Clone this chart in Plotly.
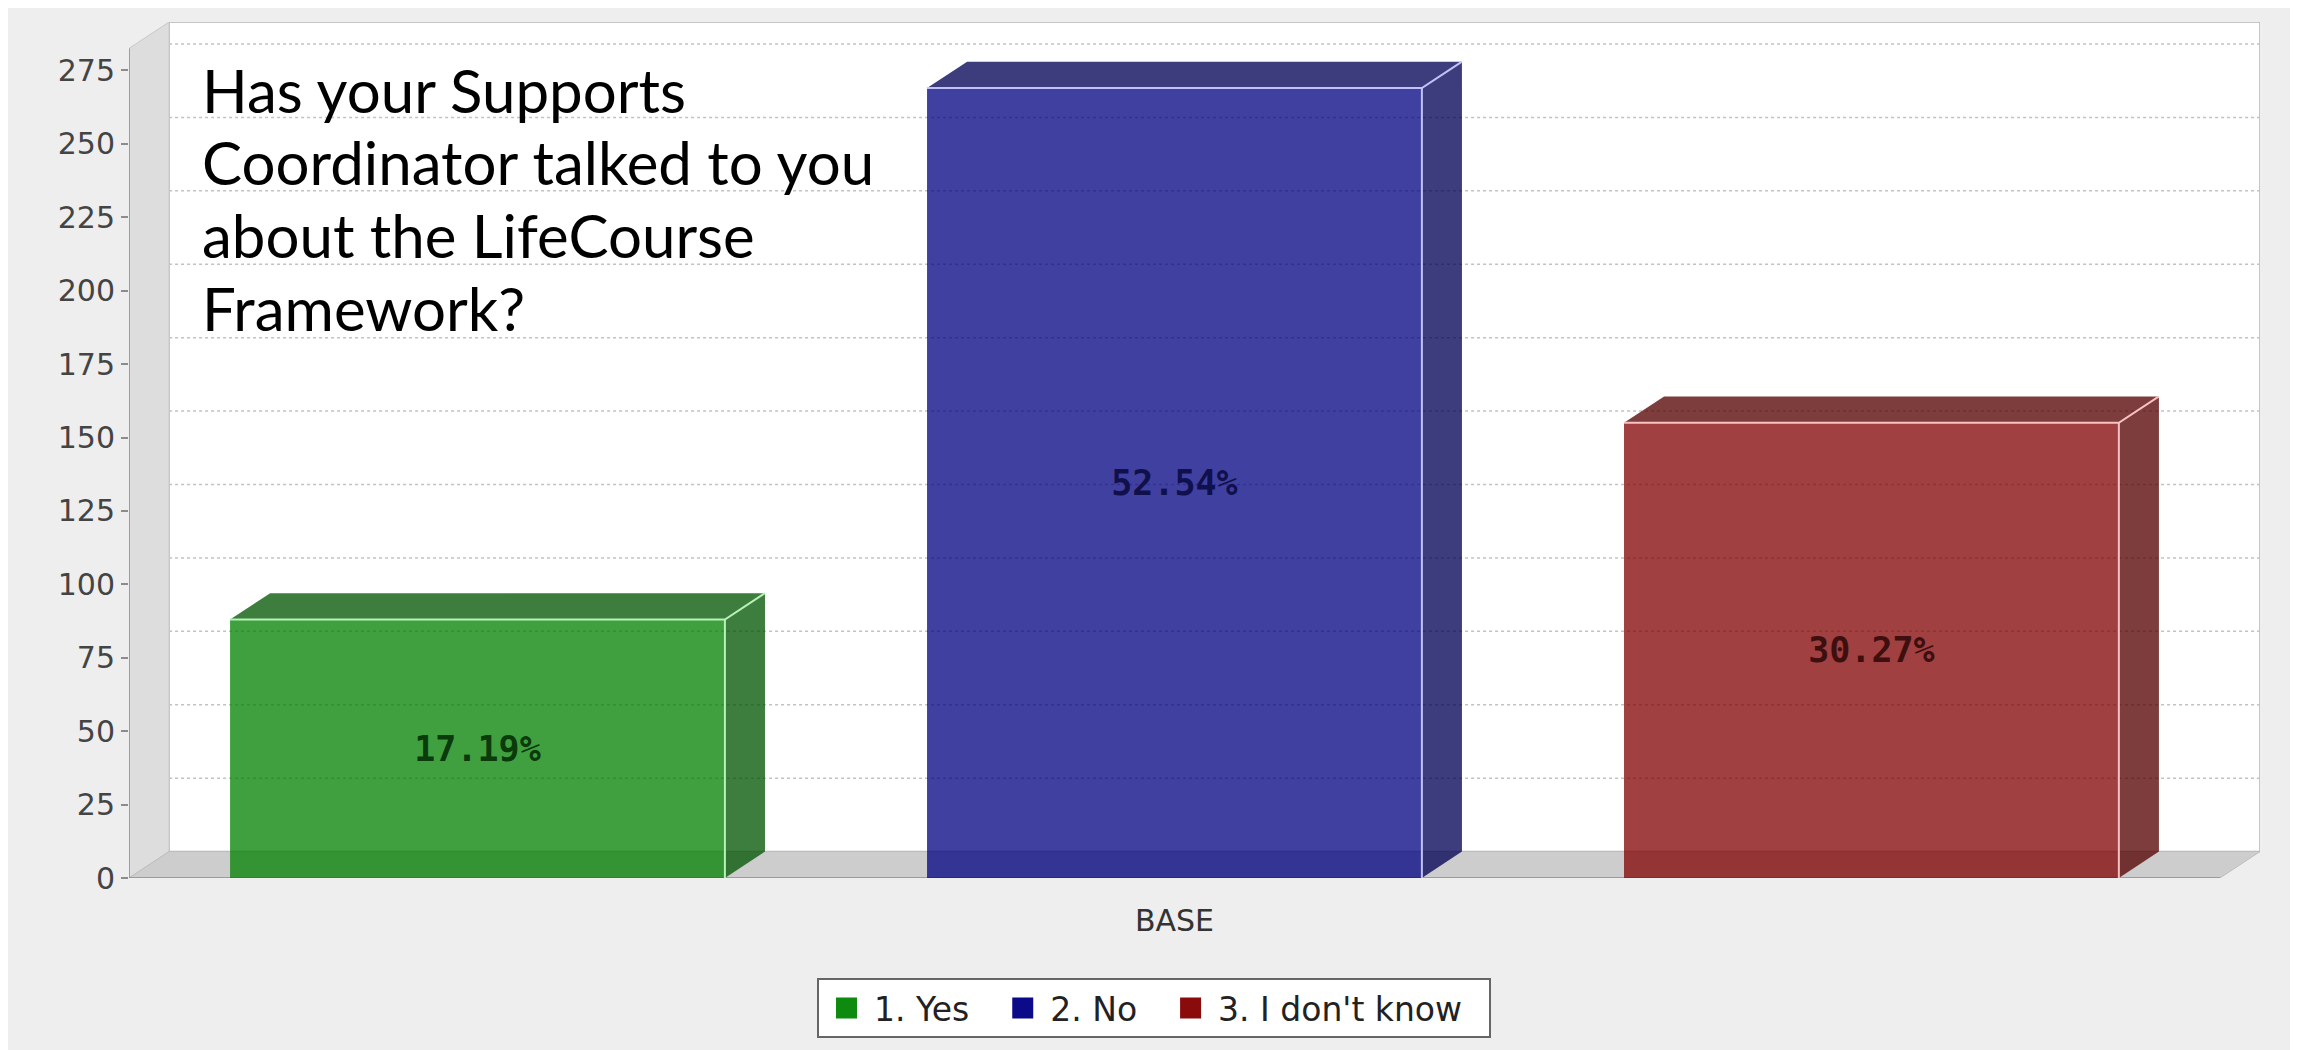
import plotly.graph_objects as go

# ---------------- data ----------------
categories = ["1. Yes", "2. No", "3. I don't know"]
counts = [88, 269, 155]
percent_labels = ["17.19%", "52.54%", "30.27%"]
group_labels = ["BASE"]
y_ticks = [0, 25, 50, 75, 100, 125, 150, 175, 200, 225, 250, 275]
title_lines = ["Has your Supports", "Coordinator talked to you",
               "about the LifeCourse", "Framework?"]

# ---------------- style ----------------
front_colors = ["rgba(0,128,0,0.75)", "rgba(0,0,128,0.75)", "rgba(128,0,0,0.75)"]
face_colors = ["rgba(0,84,0,0.76)", "rgba(0,0,84,0.76)", "rgba(84,0,0,0.76)"]
edge_colors = ["rgba(190,245,190,0.95)", "rgba(200,200,255,0.95)", "rgba(255,200,200,0.95)"]
legend_colors = ["#0e8a0e", "#0b0b8a", "#8a0b0b"]
label_colors = ["#0b3a0b", "#10104c", "#3e0f0f"]
LEGEND_PAD = "\u00a0\u00a0"   # extra spacing after each legend entry

BAR_W = 0.71      # bar width in slot units
DX = 0.0575       # 3D depth (x, data units)
DY = 9.0          # 3D depth (y, data units)
YMAX = 291.5
XMIN, XMAX = -1.5, 1.5

TITLE_TOP = 0.921     # paper y of first title line centre
TITLE_STEP = 0.0850   # paper spacing between title lines

fig = go.Figure()

# bars (front faces)
for i, (cat, v) in enumerate(zip(categories, counts)):
    xc = i - 1
    fig.add_trace(go.Bar(
        x=[xc], y=[v], width=BAR_W,
        marker=dict(color=front_colors[i], line=dict(width=0)),
        text=[percent_labels[i]], textposition="inside", insidetextanchor="middle",
        textangle=0,
        textfont=dict(family="DejaVu Sans Mono", size=35, color=label_colors[i], weight="bold"),
        showlegend=False, hoverinfo="skip", name=cat,
    ))

# 3D faces and edges derived from values
for i, v in enumerate(counts):
    xc = i - 1
    x0, x1 = xc - BAR_W / 2, xc + BAR_W / 2
    fig.add_trace(go.Scatter(
        x=[x0, x1, x1 + DX, x0 + DX, x0], y=[v, v, v + DY, v + DY, v],
        fill="toself", fillcolor=face_colors[i], mode="lines", line=dict(width=0),
        showlegend=False, hoverinfo="skip"))
    fig.add_trace(go.Scatter(
        x=[x1, x1 + DX, x1 + DX, x1, x1], y=[0, DY, v + DY, v, 0],
        fill="toself", fillcolor=face_colors[i], mode="lines", line=dict(width=0),
        showlegend=False, hoverinfo="skip"))
    fig.add_trace(go.Scatter(
        x=[x0, x1, x1 + DX, None, x1, x1], y=[v, v, v + DY, None, v, 0],
        mode="lines", line=dict(width=2, color=edge_colors[i]),
        showlegend=False, hoverinfo="skip"))

# legend entries
for i, cat in enumerate(categories):
    fig.add_trace(go.Scatter(
        x=[None], y=[None], mode="markers", name=cat + LEGEND_PAD,
        marker=dict(symbol="square", size=16, color=legend_colors[i],
                    line=dict(width=5, color=legend_colors[i]))))

shapes = []
shapes.append(dict(type="rect", xref="x", yref="y", x0=XMIN + DX, x1=XMAX + DX, y0=DY, y1=YMAX,
                   fillcolor="white", line=dict(color="#b4b4b4", width=1.5), layer="below"))
for t in y_ticks[1:]:
    shapes.append(dict(type="line", xref="x", yref="y", x0=XMIN + DX, x1=XMAX + DX,
                       y0=t + DY, y1=t + DY, line=dict(color="#c2c2c2", width=1.5, dash="dot"),
                       layer="below"))
shapes.append(dict(type="path", xref="x", yref="y",
                   path=f"M {XMIN},0 L {XMIN},{YMAX - DY} L {XMIN + DX},{YMAX} L {XMIN + DX},{DY} Z",
                   fillcolor="#dddddd", line=dict(color="#c8c8c8", width=1), layer="below"))
shapes.append(dict(type="path", xref="x", yref="y",
                   path=f"M {XMIN},0 L {XMAX},0 L {XMAX + DX},{DY} L {XMIN + DX},{DY} Z",
                   fillcolor="#cdcdcd", line=dict(color="#bdbdbd", width=1), layer="below"))
shapes.append(dict(type="line", xref="x", yref="y", x0=XMIN, x1=XMIN, y0=0, y1=YMAX - DY,
                   line=dict(color="#8c8c8c", width=1.5), layer="below"))
shapes.append(dict(type="line", xref="x", yref="y", x0=XMIN, x1=XMAX, y0=0, y1=0,
                   line=dict(color="#8c8c8c", width=1.5), layer="below"))

annotations = [dict(
    xref="paper", yref="paper", x=0.0335, y=TITLE_TOP - k * TITLE_STEP,
    xanchor="left", yanchor="middle", text=line, align="left", showarrow=False,
    font=dict(family="Lato", size=60, color="black"))
    for k, line in enumerate(title_lines)]

fig.update_layout(
    width=2290, height=1042,
    margin=dict(l=121, r=38, t=14, b=167),
    paper_bgcolor="#eeeeee", plot_bgcolor="rgba(0,0,0,0)",
    barmode="overlay",
    shapes=shapes,
    annotations=annotations,
    xaxis=dict(range=[XMIN, XMAX + DX], showgrid=False, zeroline=False, showline=False,
               tickvals=[0], ticktext=group_labels, ticks="", ticklabelstandoff=22,
               tickfont=dict(family="DejaVu Sans", size=30, color="#333333"), fixedrange=True),
    yaxis=dict(range=[0, YMAX], showgrid=False, zeroline=False, showline=False,
               tickvals=y_ticks, ticks="outside", ticklen=7, tickwidth=1.5, tickcolor="#8c8c8c",
               tickfont=dict(family="DejaVu Sans", size=30, color="#444444"), fixedrange=True),
    legend=dict(orientation="h", x=0.481, xanchor="center", y=-0.117, yanchor="top",
                bgcolor="white", bordercolor="#666666", borderwidth=2, itemwidth=45,
                font=dict(family="DejaVu Sans", size=33, color="#222222")),
)

fig.write_html("out.html")
